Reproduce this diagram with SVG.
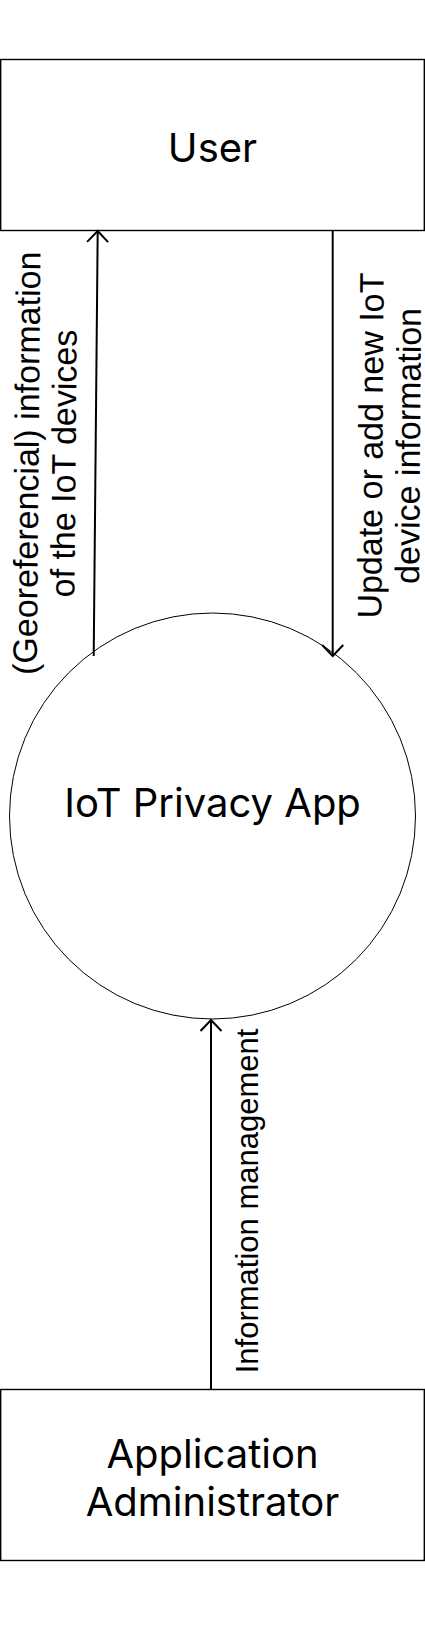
<svg xmlns="http://www.w3.org/2000/svg" width="425" height="1632" viewBox="0 0 425 1632">
<style>
.box{fill:#fff;stroke:#000;stroke-width:1.4}
.proc{fill:#fff;stroke:#000;stroke-width:1}
.node{font-family:Inter,"Liberation Sans",sans-serif;font-size:40px;fill:#000;text-anchor:middle}
.lbl{font-family:"Liberation Sans",Arial,sans-serif;font-size:34px;fill:#000;text-anchor:middle}
.edge{fill:none;stroke:#000;stroke-width:2}
</style>
<defs>
<marker id="arr" markerUnits="userSpaceOnUse" markerWidth="30" markerHeight="30" refX="0" refY="0" viewBox="-15 -15 30 30" orient="auto" overflow="visible">
<path d="M -11 -10.5 L 0 0 L -11 10.5" fill="none" stroke="#000" stroke-width="2"/>
</marker>
</defs>
<rect width="425" height="1632" fill="#fff"/>
<g id="user">
<rect class="box" x="0.7" y="59.5" width="423.6" height="171"/>
<text class="node" x="212.5" y="161.5">User</text>
</g>
<g id="app">
<circle class="proc" cx="212.5" cy="816" r="203"/>
<text class="node" x="212.5" y="816.5">IoT Privacy App</text>
</g>
<g id="admin">
<rect class="box" x="0.7" y="1389.5" width="423.6" height="171"/>
<text class="node" x="212.5" y="1468">Application</text>
<text class="node" x="212.5" y="1516">Administrator</text>
</g>
<g id="connectors">
<g id="e1">
<line class="edge" x1="93.7" y1="656" x2="97.7" y2="231" marker-end="url(#arr)"/>
<text class="lbl" transform="translate(0 463) rotate(-89.5)"><tspan x="0" y="38.5">(Georeferencial) information</tspan><tspan x="0" y="75.5">of the IoT devices</tspan></text>
</g>
<g id="e2">
<line class="edge" x1="332.7" y1="230.5" x2="332.7" y2="656" marker-end="url(#arr)"/>
<text class="lbl" transform="translate(0 443) rotate(-89.6)"><tspan x="0" y="382.5">Update or add new IoT</tspan><tspan x="0" y="420">device information</tspan></text>
</g>
<g id="e3">
<line class="edge" x1="211" y1="1389" x2="211" y2="1020" marker-end="url(#arr)"/>
<text class="lbl" style="font-size:31px" transform="translate(0 1201) rotate(-90)"><tspan x="0" y="258">Information management</tspan></text>
</g>
</g>
</svg>
